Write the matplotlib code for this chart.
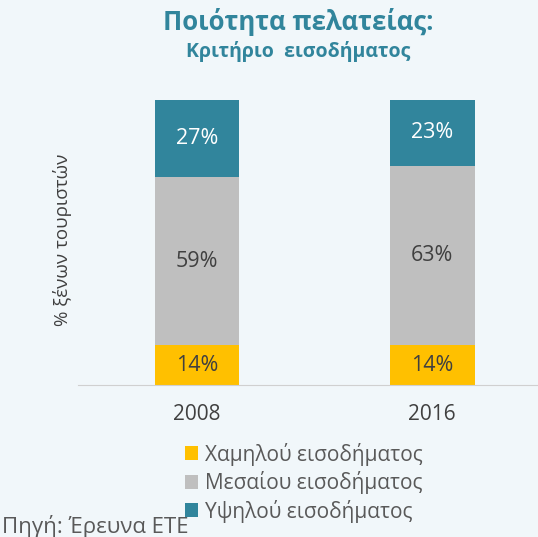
import numpy as np
import matplotlib
matplotlib.use("Agg")
import matplotlib.pyplot as plt
from matplotlib.patches import Patch

plt.rcParams['font.family'] = ['Open Sans', 'DejaVu Sans']

years = ['2008', '2016']
low_income = [14, 14]
mid_income = [59, 63]
high_income = [27, 23]
series_names = ['Χαμηλού εισοδήματος', 'Μεσαίου εισοδήματος', 'Υψηλού εισοδήματος']
series_colors = ['#FFC000', '#BFBFBF', '#31859C']
label_colors = ['#404040', '#404040', '#FFFFFF']

bg = '#F1F7FA'
fig = plt.figure(figsize=(5.38, 5.37), dpi=100, facecolor=bg)
W, H = 538, 537
ax = fig.add_axes([78 / W, 1 - 385 / H, (538 - 78) / W, (385 - 100) / H])
ax.set_facecolor(bg)

x = np.arange(len(years))
bottom = np.zeros(len(years))
for vals, col, lc in zip([low_income, mid_income, high_income], series_colors, label_colors):
    ax.bar(x, vals, width=0.36, bottom=bottom, color=col)
    for xi, b, v in zip(x, bottom, vals):
        ax.text(xi, b + v / 2, f'{v}%', ha='center', va='center', fontsize=15.5, color=lc)
    bottom = bottom + np.array(vals)

ax.set_xlim(-0.506, 1.45)
ax.set_ylim(0, 100)
ax.set_yticks([])
ax.set_xticks(x)
ax.set_xticklabels(years, fontsize=15, color='#404040')
ax.tick_params(axis='x', length=0, pad=14)
for s in ['top', 'right', 'left']:
    ax.spines[s].set_visible(False)
ax.spines['bottom'].set_color('#D0D0D0')

fig.text(62 / W, 1 - 240 / H, '% ξένων τουριστών', rotation=90, ha='center', va='center',
         fontsize=13.5, color='#404040')

fig.text(298 / W, 1 - 22 / H, 'Ποιότητα πελατείας:', ha='center', va='center',
         fontsize=18.5, fontweight='bold', color='#31859C')
fig.text(298 / W, 1 - 52 / H, 'Κριτήριο  εισοδήματος', ha='center', va='center',
         fontsize=14, fontweight='bold', color='#31859C')

handles = [Patch(facecolor=c) for c in series_colors]
leg = fig.legend(handles, series_names, loc='upper left', bbox_to_anchor=(166 / W, 1 - 424 / H),
                 frameon=False, fontsize=15, handlelength=0.65, handleheight=0.65,
                 handletextpad=0.3, labelspacing=0.26)
for t in leg.get_texts():
    t.set_color('#595959')

fig.text(2 / W, 1 - 527 / H, 'Πηγή: Έρευνα ΕΤΕ', ha='left', va='center', fontsize=16, color='#595959')

fig.savefig('out.png', dpi=100, facecolor=bg)
